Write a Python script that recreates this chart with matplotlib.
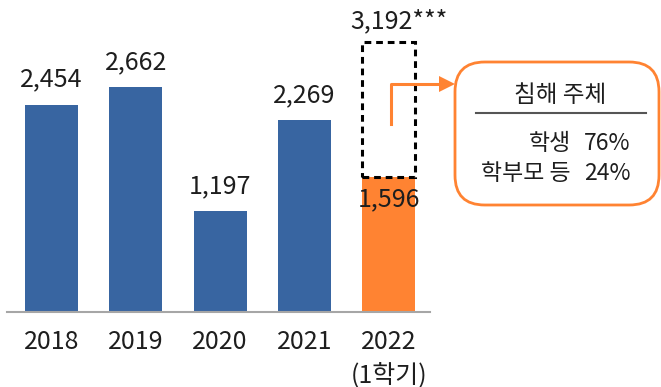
import matplotlib
matplotlib.use('Agg')
import matplotlib.pyplot as plt
from matplotlib.patches import FancyBboxPatch, Polygon
from matplotlib.lines import Line2D

plt.rcParams['font.family'] = ['Noto Sans CJK KR', 'DejaVu Sans']

years = ['2018', '2019', '2020', '2021', '2022\n(1학기)']
values = [2454, 2662, 1197, 2269, 1596]
projected = 3192
projected_label = '3,192***'
box_title = '침해 주체'
box_rows = ['학생', '학부모 등']
box_shares = ['76%', '24%']

blue = '#3865A1'
orange = '#FF8332'
ink = '#1E1E1E'

W, H = 661, 387
fig = plt.figure(figsize=(W / 100, H / 100), dpi=100)


def px(x, y):
    # pixel coords (top-left origin) -> figure fraction
    return x / W, 1 - y / H


ax = fig.add_axes([7 / W, 75 / H, 423 / W, 312 / H])
xs = range(len(values))
colors = [blue] * 4 + [orange]
ax.bar(xs, values, width=0.63, color=colors, zorder=2)

# dashed outline for the full-year estimate
ax.bar(4, projected - values[4], bottom=values[4], width=0.63, fill=False,
       edgecolor='black', linestyle=(0, (2.2, 1.6)), linewidth=2.2, zorder=3)

k = 0.0845  # px per unit
for i, v in enumerate(values[:4]):
    ax.text(i, v + 25 / k, f'{v:,}', ha='center', va='center', fontsize=18,
            color=ink)
ax.text(4, values[4] - 22 / k, f'{values[4]:,}', ha='center', va='center',
        fontsize=18, color=ink)
ax.text(4.12, projected + 21 / k, projected_label, ha='center', va='center',
        fontsize=18, color=ink)

ax.set_xlim(-0.53, 4.49)
ax.set_ylim(0, 3692)
ax.set_xticks(list(xs))
ax.set_xticklabels(years, fontsize=18, color=ink, linespacing=1.38, va='top')
ax.tick_params(axis='x', length=0, pad=12)
ax.set_yticks([])
for s in ['top', 'right', 'left']:
    ax.spines[s].set_visible(False)
ax.spines['bottom'].set_color('#A6A6A6')
ax.spines['bottom'].set_linewidth(1.5)

# callout box
x0, y0 = px(455, 205)
x1, y1 = px(659, 62)
box = FancyBboxPatch((x0, y0), x1 - x0, y1 - y0,
                     boxstyle='round,pad=0,rounding_size=0.045',
                     transform=fig.transFigure, facecolor='white',
                     edgecolor=orange, linewidth=2, mutation_aspect=W / H)
fig.patches.append(box)

tx, ty = px(560, 95)
fig.text(tx, ty, box_title, ha='center', va='center', fontsize=17, color=ink)
la, lb = px(476, 113)
lc, _ = px(646, 113)
fig.add_artist(Line2D([la, lc], [lb, lb], transform=fig.transFigure,
                      color='#555555', linewidth=1.5))
for row, share, yy in zip(box_rows, box_shares, [143, 173]):
    rx, ry = px(571, yy)
    fig.text(rx, ry, row, ha='right', va='center', fontsize=16.5, color=ink)
    sx, _ = px(584, yy)
    fig.text(sx, ry, share, ha='left', va='center', fontsize=16.5, color=ink)

# arrow from dashed bar to callout
p1 = px(391, 124)
p2 = px(391, 84)
p3 = px(441, 84)
fig.add_artist(Line2D([p1[0], p2[0], p3[0]], [p1[1], p2[1], p3[1]],
                      transform=fig.transFigure, color=orange, linewidth=2.2))
head = Polygon([px(439, 76), px(439, 92), px(455, 84)], closed=True,
               transform=fig.transFigure, facecolor=orange, edgecolor='none')
fig.patches.append(head)

fig.savefig('out.png', dpi=100)
